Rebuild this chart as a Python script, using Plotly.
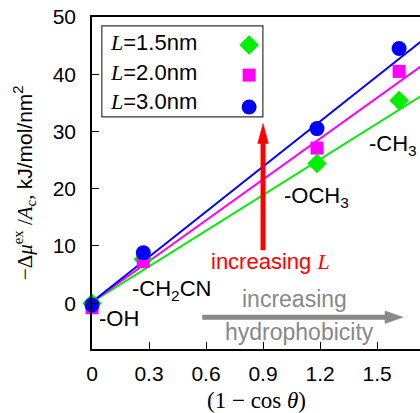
import plotly.graph_objects as go

# ---- data ----
x_vals = [0.0, 0.27, 1.184, 1.616]
y_L15 = [0.0, 7.7, 24.4, 35.4]
y_L20 = [-0.8, 7.3, 27.1, 40.5]
y_L30 = [-0.3, 8.8, 30.5, 44.5]
series_names = ["L=1.5nm", "L=2.0nm", "L=3.0nm"]
fit_slopes = [20.8, 23.8, 26.3]
fit_intercepts = [0.2, 0.2, 0.2]
fit_x = [0.0, 1.85]
x_ticks = [0, 0.3, 0.6, 0.9, 1.2, 1.5]
x_tick_labels = ["0", "0.3", "0.6", "0.9", "1.2", "1.5"]
y_ticks = [0, 10, 20, 30, 40, 50]
group_labels = ["-OH", "-CH<sub>2</sub>CN", "-OCH<sub>3</sub>", "-CH<sub>3</sub>"]
group_label_x = [0.026, 0.2, 1.0, 1.447]
group_label_y = [-2.6, 2.3, 18.5, 27.6]

colors = ["#00ee00", "#ff00ff", "#0000ff"]
symbols = ["diamond", "square", "circle"]
msizes = [15, 13, 15]
SANS = "Liberation Sans, Arial, sans-serif"
SERIF = "Liberation Serif, Times New Roman, serif"
FS = 22

fig = go.Figure()
ys = [y_L15, y_L20, y_L30]
for i in range(3):
    fig.add_trace(go.Scatter(
        x=fit_x, y=[fit_intercepts[i] + fit_slopes[i] * xx for xx in fit_x],
        mode="lines", line=dict(color=colors[i], width=2), showlegend=False,
        hoverinfo="skip"))
for i in range(3):
    fig.add_trace(go.Scatter(
        x=x_vals, y=ys[i], mode="markers", name=series_names[i],
        marker=dict(symbol=symbols[i], size=msizes[i], color=colors[i],
                    line=dict(width=0)),
        showlegend=False, cliponaxis=False))

# custom legend (marker to the right of text)
leg_text_y = [0.922, 0.834, 0.744]
leg_marker_y = [0.916, 0.825, 0.729]
for i in range(3):
    fig.add_trace(go.Scatter(
        x=[0.479], y=[leg_marker_y[i]], xaxis="x2", yaxis="y2", mode="markers",
        marker=dict(symbol=symbols[i], size=msizes[i], color=colors[i],
                    line=dict(width=0)),
        showlegend=False, cliponaxis=False, hoverinfo="skip"))
    num = series_names[i].split("=")[1]
    fig.add_annotation(
        xref="paper", yref="paper", x=0.050, y=leg_text_y[i], xanchor="left",
        yanchor="middle", showarrow=False,
        text=f"<span style='font-family:{SERIF}'><i>L</i></span>={num}",
        font=dict(family=SANS, size=FS, color="black"))

shapes = [
    dict(type="rect", xref="paper", yref="paper", x0=0.030, x1=0.521,
         y0=0.699, y1=0.973, line=dict(color="#333", width=1.2),
         fillcolor="rgba(0,0,0,0)"),
    # red arrow
    dict(type="line", xref="x", yref="y", x0=0.9, x1=0.9, y0=9.25, y1=28.5,
         line=dict(color="#ff0000", width=5)),
    dict(type="path", xref="x", yref="y",
         path="M 0.872 27.9 L 0.928 27.9 L 0.9 31.4 Z",
         fillcolor="#ff0000", line=dict(color="#ff0000", width=0.5)),
    # gray arrow
    dict(type="line", xref="x", yref="y", x0=0.58, x1=1.55, y0=-2.45, y1=-2.45,
         line=dict(color="#888888", width=5)),
    dict(type="path", xref="x", yref="y",
         path="M 1.542 -1.35 L 1.542 -3.55 L 1.637 -2.45 Z",
         fillcolor="#888888", line=dict(color="#888888", width=0.5)),
]
fig.update_layout(shapes=shapes)

for i in range(4):
    fig.add_annotation(x=group_label_x[i], y=group_label_y[i], xref="x", yref="y",
                       text=group_labels[i], showarrow=False, xanchor="left",
                       yanchor="middle", font=dict(family=SANS, size=FS, color="black"))

fig.add_annotation(x=0.937, y=7.2, xref="x", yref="y", showarrow=False,
                   text=f"increasing <span style='font-family:{SERIF}'><i>L</i></span>",
                   font=dict(family=SANS, size=FS, color="#ff0000"))
fig.add_annotation(x=1.063, y=0.7, xref="x", yref="y", showarrow=False,
                   text="increasing", font=dict(family=SANS, size=FS + 1, color="#888888"))
fig.add_annotation(x=1.09, y=-5.0, xref="x", yref="y", showarrow=False,
                   text="hydrophobicity", font=dict(family=SANS, size=FS + 1, color="#888888"))

# axis titles
fig.add_annotation(xref="paper", yref="paper", x=-0.207, y=0.5, textangle=-90,
                   showarrow=False, xanchor="center", yanchor="middle",
                   text=(f"−Δ<i>μ</i><sup>ex</sup> /<i>A</i><sub>c</sub>, "
                         f"<span style='font-family:{SANS}'>kJ/mol/nm<sup>2</sup></span>"),
                   font=dict(family=SERIF, size=21, color="black"))
fig.add_annotation(xref="paper", yref="paper", x=0.5, y=-0.154, showarrow=False,
                   xanchor="center", yanchor="middle",
                   text="(1 − cos <i>θ</i>)",
                   font=dict(family=SERIF, size=23, color="black"))

fig.update_layout(
    width=420, height=413, margin=dict(l=92, r=0, t=17, b=64),
    paper_bgcolor="white", plot_bgcolor="white", showlegend=False,
    xaxis=dict(range=[0, 1.726], tickvals=x_ticks, ticktext=x_tick_labels,
               ticks="inside", ticklen=7, tickcolor="black", showline=True,
               linecolor="black", linewidth=1.5, mirror=True, showgrid=False,
               zeroline=False, ticklabelstandoff=5,
               tickfont=dict(family=SANS, size=21, color="black")),
    yaxis=dict(range=[-8, 50], tickvals=y_ticks, ticks="inside", ticklen=7,
               tickcolor="black", showline=True, linecolor="black", linewidth=1.5,
               showgrid=False, zeroline=False, ticklabelstandoff=10,
               tickfont=dict(family=SANS, size=21, color="black")),
    xaxis2=dict(overlaying="x", range=[0, 1], visible=False),
    yaxis2=dict(overlaying="y", range=[0, 1], visible=False),
)

fig.write_html("out.html")
